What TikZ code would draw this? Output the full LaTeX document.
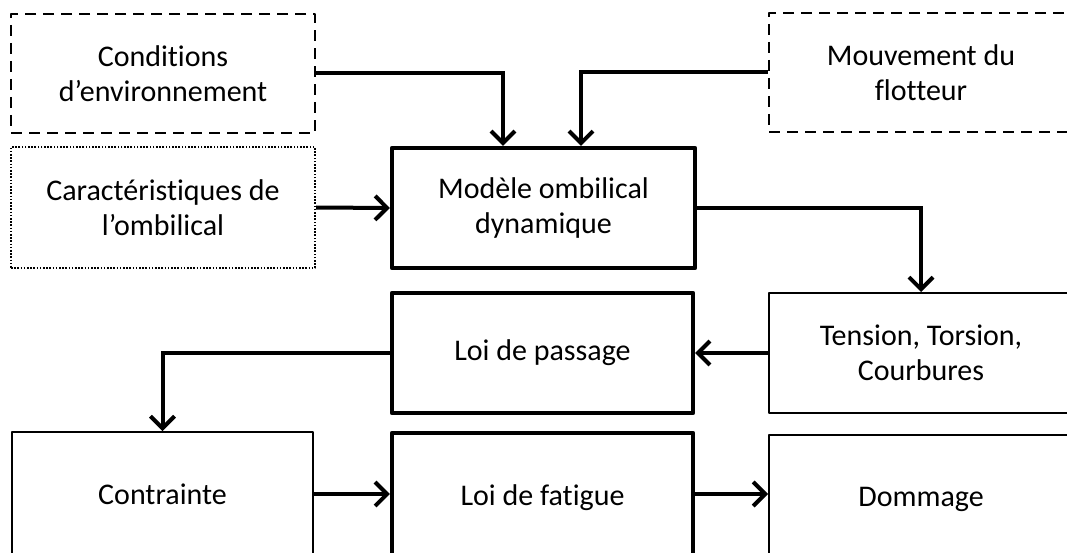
\documentclass[tikz,border=0pt]{standalone}
\usepackage{fontspec}
\setmainfont[Ligatures={NoCommon}]{Carlito}
\usetikzlibrary{arrows.meta}
\begin{document}
\begin{tikzpicture}[x=1pt,y=-1pt,
  box/.style={draw=black, fill=white, align=center, inner sep=0pt,
    font=\fontsize{30}{35}\selectfont, line join=round},
  thinbox/.style={box, line width=2pt},
  thickbox/.style={box, line width=4.2pt},
  dashbox/.style={box, line width=2.2pt, dash pattern=on 11pt off 7pt},
  dotbox/.style={box, line width=2pt, dash pattern=on 1.6pt off 1.6pt},
  arr/.style={line width=4pt, -{Straight Barb[length=12pt,width=24pt,line width=4pt]}}]
\useasboundingbox (0,0) rectangle (1067,553);
\clip (0,0) rectangle (1067,553);
\fill[white] (0,0) rectangle (1067,553);

\node[dashbox, minimum width=304pt, minimum height=119pt] (cond) at (163,73.5) {Conditions\\d’environnement};
\node[dashbox, minimum width=304pt, minimum height=119pt] (mouv) at (921,72.5) {Mouvement du\\flotteur};
\node[dotbox, minimum width=304pt, minimum height=121pt] (cara) at (163,207.5) {Caractéristiques de\\l’ombilical};
\node[thickbox, minimum width=303pt, minimum height=120pt] (mod) at (543.5,208) {Modèle ombilical\\dynamique};
\node[thinbox, minimum width=304pt, minimum height=120pt] (tens) at (921,353) {Tension, Torsion,\\Courbures};
\node[thickbox, minimum width=301pt, minimum height=120pt] (pass) at (542.5,353) {Loi de passage};
\node[thinbox, minimum width=301pt, minimum height=124pt] (cont) at (162.5,494) {Contrainte};
\node[thickbox, minimum width=301pt, minimum height=122pt] (fat) at (542.5,494) {\raisebox{-4pt}[\height][\depth]{Loi de fatigue}};
\node[thinbox, minimum width=304pt, minimum height=122pt] (dom) at (921,496) {\raisebox{-3pt}[\height][\depth]{Dommage}};

\coordinate (c1) at (503,0);
\coordinate (c2) at (581,0);

\draw[arr] (cond.east) -| (c1 |- mod.north);
\draw[arr] (mouv.west) -| (c2 |- mod.north);
\draw[arr] (cara.east) -- (mod.west);
\draw[arr] (mod.east) -| (tens.north);
\draw[arr] (tens.west) -- (pass.east);
\draw[arr] (pass.west) -| (cont.north);
\draw[arr] (cont.east) -- (fat.west);
\draw[arr] (fat.east) -- (fat.east -| dom.west);
\end{tikzpicture}
\end{document}
